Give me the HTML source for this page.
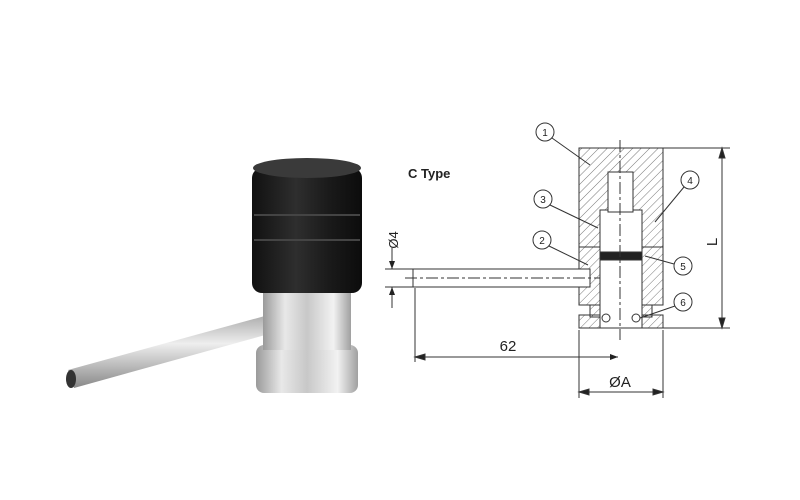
<!DOCTYPE html>
<html><head><meta charset="utf-8"><style>
html,body{margin:0;padding:0;background:#fff;width:800px;height:500px;overflow:hidden}
svg{display:block}
text{font-family:"Liberation Sans",sans-serif;fill:#222}
</style></head><body>
<svg width="800" height="500" viewBox="0 0 800 500">
<defs>
<linearGradient id="steel" x1="0" x2="1" y1="0" y2="0">
<stop offset="0" stop-color="#9a9a9a"/><stop offset="0.25" stop-color="#e8e8e8"/><stop offset="0.5" stop-color="#c8c8c8"/><stop offset="0.8" stop-color="#f2f2f2"/><stop offset="1" stop-color="#a0a0a0"/></linearGradient>
<linearGradient id="blk" x1="0" x2="1"><stop offset="0" stop-color="#111"/><stop offset="0.4" stop-color="#2e2e2e"/><stop offset="0.7" stop-color="#1a1a1a"/><stop offset="1" stop-color="#0c0c0c"/></linearGradient>
<linearGradient id="tube" x1="0" y1="0" x2="0" y2="1"><stop offset="0" stop-color="#aaa"/><stop offset="0.4" stop-color="#eee"/><stop offset="1" stop-color="#888"/></linearGradient>
<pattern id="hatch" width="6" height="6" patternUnits="userSpaceOnUse" patternTransform="rotate(45)"><line x1="0" y1="0" x2="0" y2="6" stroke="#555" stroke-width="0.8"/></pattern>
<marker id="ar" markerWidth="8" markerHeight="6" refX="8" refY="3" orient="auto"><path d="M0,0 L8,3 L0,6z" fill="#222"/></marker>
</defs>
<!-- photo -->
<g>
<polygon points="68,370 272,314 276,332 74,388" fill="url(#tube)"/>
<ellipse cx="71" cy="379" rx="5" ry="9" fill="#333"/>
<rect x="256" y="345" width="102" height="48" rx="8" fill="url(#steel)"/>
<rect x="263" y="290" width="88" height="60" fill="url(#steel)"/>
<rect x="252" y="168" width="110" height="125" rx="10" fill="url(#blk)"/>
<ellipse cx="307" cy="168" rx="54" ry="10" fill="#3a3a3a"/>
<line x1="254" y1="215" x2="360" y2="215" stroke="#444" stroke-width="2"/>
<line x1="254" y1="240" x2="360" y2="240" stroke="#444" stroke-width="2"/>
</g>
<!-- drawing -->
<g stroke="#333" stroke-width="1" fill="none">
<rect x="579" y="148" width="84" height="99" fill="url(#hatch)"/>
<rect x="579" y="247" width="84" height="58" fill="url(#hatch)"/>
<rect x="590" y="305" width="62" height="12" fill="url(#hatch)"/>
<rect x="579" y="315" width="84" height="13" fill="url(#hatch)"/>
<rect x="413" y="269" width="177" height="18" fill="#fff"/>
<rect x="600" y="210" width="42" height="118" fill="#fff"/>
<rect x="608" y="172" width="25" height="40" fill="#fff"/>
<rect x="600" y="252" width="42" height="8" fill="#222"/>
<circle cx="606" cy="318" r="4"/><circle cx="636" cy="318" r="4"/>
<line x1="620" y1="140" x2="620" y2="340" stroke-dasharray="12,3,3,3"/>
<line x1="405" y1="278" x2="600" y2="278" stroke-dasharray="12,3,3,3"/>
<line x1="663" y1="148" x2="730" y2="148"/><line x1="663" y1="328" x2="730" y2="328"/>
<line x1="722" y1="150" x2="722" y2="326"/>
<path d="M722,148 l-3,10 h6z M722,328 l-3,-10 h6z" fill="#222"/>
<line x1="415" y1="288" x2="415" y2="362"/><line x1="415" y1="357" x2="618" y2="357" marker-end="url(#ar)"/>
<path d="M415,357 l10,-3 v6z" fill="#222"/>
<line x1="579" y1="330" x2="579" y2="398"/><line x1="663" y1="330" x2="663" y2="398"/>
<line x1="581" y1="392" x2="661" y2="392"/>
<path d="M579,392 l10,-3 v6z M663,392 l-10,-3 v6z" fill="#222"/>
<line x1="385" y1="269" x2="413" y2="269"/><line x1="385" y1="287" x2="413" y2="287"/>
<line x1="392" y1="248" x2="392" y2="269" marker-end="url(#ar)"/><line x1="392" y1="308" x2="392" y2="287" marker-end="url(#ar)"/>
<g fill="#fff">
<circle cx="545" cy="132" r="9"/><circle cx="690" cy="180" r="9"/><circle cx="543" cy="199" r="9"/>
<circle cx="542" cy="240" r="9"/><circle cx="683" cy="266" r="9"/><circle cx="683" cy="302" r="9"/></g>
<line x1="552" y1="138" x2="590" y2="165"/><line x1="684" y1="187" x2="655" y2="222"/>
<line x1="550" y1="205" x2="598" y2="228"/><line x1="549" y1="246" x2="588" y2="265"/>
<line x1="674" y1="264" x2="645" y2="256"/><line x1="675" y1="306" x2="640" y2="318"/>
</g>
<g font-size="10" text-anchor="middle">
<text x="545" y="136">1</text><text x="690" y="184">4</text><text x="543" y="203">3</text>
<text x="542" y="244">2</text><text x="683" y="270">5</text><text x="683" y="306">6</text></g>
<text x="408" y="178" font-size="13" font-weight="bold">C Type</text>
<text x="508" y="351" font-size="15" text-anchor="middle">62</text>
<text x="620" y="387" font-size="15" text-anchor="middle">ØA</text>
<text x="717" y="242" font-size="15" text-anchor="middle" transform="rotate(-90 717 242)">L</text>
<text x="398" y="240" font-size="13" text-anchor="middle" transform="rotate(-90 398 240)">Ø4</text>
</svg>
</body></html>
